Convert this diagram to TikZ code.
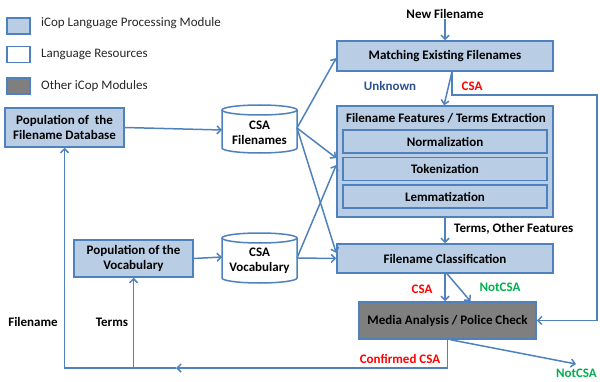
\documentclass[tikz,border=0pt]{standalone}
\usepackage{fontspec}
\setmainfont{Carlito}
\usetikzlibrary{arrows.meta}
\definecolor{bfill}{HTML}{B9CDE5}
\definecolor{bline}{HTML}{4F81BD}
\definecolor{gfill}{HTML}{7F7F7F}
\definecolor{lblue}{HTML}{2F528F}
\definecolor{lred}{HTML}{FF0000}
\definecolor{lgreen}{HTML}{00B050}
\begin{document}
\begin{tikzpicture}[x=1pt,y=1pt,
  base/.style={font=\fontsize{13}{15.5}\selectfont\bfseries, align=center, inner sep=0pt},
  mod/.style={base, draw=bline, fill=bfill, line width=1.5pt},
  other/.style={base, draw=bline, fill=gfill, line width=1.5pt},
  legbox/.style={draw=bline, line width=1.5pt, minimum width=23, minimum height=16, inner sep=0pt},
  legtxt/.style={font=\fontsize{13}{15.5}\selectfont, anchor=west, inner sep=0pt, text=black!85},
  cylst/.style={draw=bline, line width=1.5pt},
  flow/.style={draw=bline, line width=1.5pt, -{Straight Barb[length=4pt,width=8pt]}},
  lab/.style={base},
]
\useasboundingbox (0,0) rectangle (600,381);

% legend
\node[legbox, fill=bfill] (l1) at (18.5,355) {};
\node[legtxt] (t1) at (41,358) {iCop Language Processing Module};
\node[legbox, fill=white] (l2) at (18.5,326.5) {};
\node[legtxt] (t2) at (41,327) {Language Resources};
\node[legbox, fill=gfill] (l3) at (18.5,295) {};
\node[legtxt] (t3) at (41,295) {Other iCop Modules};

% main modules
\node[lab] (newf) at (445,367) {New Filename};
\node[mod, minimum width=216, minimum height=30] (match) at (445,325) {Matching Existing Filenames};
\node[mod, minimum width=216, minimum height=111] (feat) at (445,219.5) {};
\node[lab] (feattitle) at (446,263) {Filename Features / Terms Extraction};
\node[mod, minimum width=204, minimum height=23] (norm) at (445,239.5) {Normalization};
\node[mod, minimum width=204, minimum height=23] (tok) at (445,212) {Tokenization};
\node[mod, minimum width=204, minimum height=23] (lem) at (445,184.5) {Lemmatization};
\node[mod, minimum width=216, minimum height=29] (cls) at (445,122.5) {Filename Classification};
\node[other, minimum width=177, minimum height=37] (media) at (447.5,60.5) {Media Analysis / Police Check};

\node[mod, minimum width=119, minimum height=39] (db) at (64.5,253.5) {Population of\ \ the\\Filename Database};
\node[mod, minimum width=119, minimum height=37] (vb) at (133.5,122.5) {Population of the\\Vocabulary};

% cylinders
\draw[cylst] (222,271) -- (222,233) arc[start angle=180,end angle=360,x radius=37.5,y radius=5] -- (297,271);
\draw[cylst] (259.5,271) ellipse[x radius=37.5,y radius=5];
\node[lab] (fn) at (259.5,248) {CSA\\Filenames};
\draw[cylst] (222,143) -- (222,103) arc[start angle=180,end angle=360,x radius=37.5,y radius=5] -- (297,143);
\draw[cylst] (259.5,143) ellipse[x radius=37.5,y radius=5];
\node[lab] (vc) at (259.5,120) {CSA\\Vocabulary};
\coordinate (fnW) at (222,251);
\coordinate (fnE) at (297,253);
\coordinate (vcW) at (222,124);
\coordinate (vcE) at (297,123);

% connectors
\draw[flow] (newf) -- (match.north);
\draw[flow] ([xshift=7]match.south) -- ([xshift=-1]feat.north);
\draw[flow] ([xshift=7]match.south) |- (597,286) |- (media.east);
\node[lab, text=lblue] (unk) at (390,295) {Unknown};
\node[lab, text=lred] (csa1) at (472,295) {CSA};
\draw[flow] (feat.south) -- (cls.north);
\node[lab, anchor=west] (terms2) at (454,152) {Terms, Other Features};
\draw[flow] (cls.south) -- ([xshift=-2.5]media.north);
\draw[flow] ([xshift=2]cls.south) -- ([xshift=23]media.north);
\node[lab, text=lred] (csa2) at (422,92) {CSA};
\node[lab, text=lgreen] (ncsa1) at (500,94) {NotCSA};

\draw[flow] (db.east) -- (fnW);
\draw[flow] (vb.east) -- (vcW);
\draw[flow] (fnE) -- ([yshift=-2]match.west);
\draw[flow] (fnE) -- ([yshift=3.5]feat.west);
\draw[flow] (fnE) -- ([yshift=5.5]cls.west);
\draw[flow] (vcE) -- ([yshift=-3.5]feat.west);
\draw[flow] (vcE) -- (cls.west);

\coordinate (mid) at (176,13);
\coordinate (tb) at (133.5,13);
\draw[flow] (media.south) |- (mid);
\draw[flow] (mid) -| (db.south);
\draw[flow] (tb) -- (vb.south);
\node[lab, text=lred] (conf) at (400,22) {Confirmed CSA};
\node[lab] (fnl) at (33,59) {Filename};
\node[lab] (tml) at (112,59) {Terms};

\coordinate (nc) at (576,17);
\draw[flow] ([xshift=3]media.south) -- (nc);
\node[lab, text=lgreen, anchor=south east] (ncsa2) at (597,3) {NotCSA};
\end{tikzpicture}
\end{document}
